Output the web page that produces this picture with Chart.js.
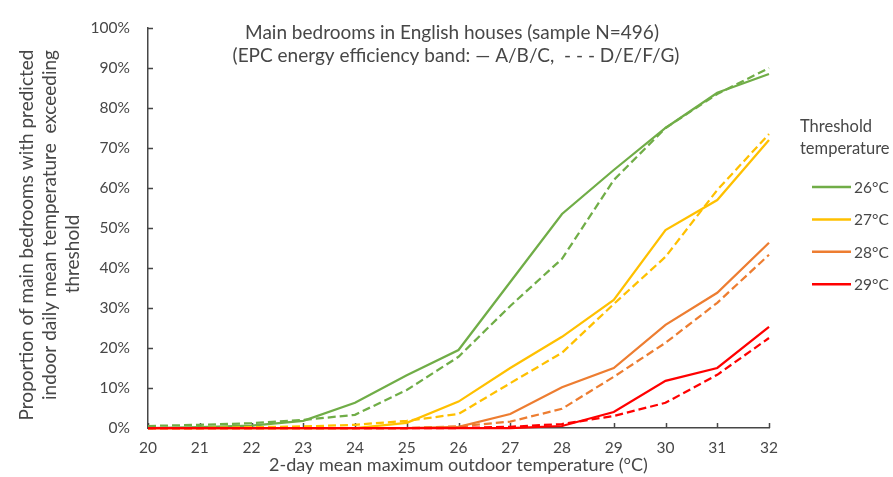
<!DOCTYPE html>
<html>
<head>
<meta charset="utf-8">
<script src="https://cdn.jsdelivr.net/npm/chart.js@4/dist/chart.umd.min.js"></script>
<style>
  html, body { margin: 0; padding: 0; background: #fff; }
  #wrap { position: relative; width: 893px; height: 477px; }
</style>
</head>
<body>
<div id="wrap"><canvas id="chart" width="893" height="477"></canvas></div>
<script>
// 2-day mean maximum outdoor temperature (°C)
const temps = ['20', '21', '22', '23', '24', '25', '26', '27', '28', '29', '30', '31', '32'];

// Share of main bedrooms (%) whose indoor daily mean exceeds each threshold
// EPC band A/B/C (solid) and D/E/F/G (dashed)
const abc26  = [0, 0.2, 0.6, 1.8, 6.3, 13.2, 19.5, 36.5, 53.5, 64.5, 75, 83.8, 88.5];
const defg26 = [0.5, 0.8, 1.2, 2, 3.3, 9.5, 17.8, 30.5, 42.3, 62, 75, 83.5, 90];
const abc27  = [0, 0, 0, 0, 0, 1.3, 6.6, 15, 22.8, 32, 49.5, 57, 72];
const defg27 = [0, 0, 0.2, 0.4, 0.8, 1.8, 3.5, 11.2, 18.8, 31, 42.8, 59.5, 73.5];
const abc28  = [0, 0, 0, 0, 0, 0, 0.3, 3.5, 10.2, 15, 25.8, 33.8, 46.3];
const defg28 = [0, 0, 0, 0, 0, 0, 0.4, 1.6, 4.8, 12.8, 21.3, 31.3, 43.3];
const abc29  = [0, 0, 0, 0, 0, 0, 0, 0, 0.5, 4, 11.8, 15, 25.3];
const defg29 = [0, 0, 0, 0, 0, 0, 0, 0.3, 1, 3, 6.3, 13.3, 22.5];

const thresholds = ['26°C', '27°C', '28°C', '29°C'];
const colours = ['#70AD47', '#FFC000', '#ED7D31', '#FF0000'];
const yTicks = [0, 10, 20, 30, 40, 50, 60, 70, 80, 90, 100];

const titleLines = [
  'Main bedrooms in English houses (sample N=496)',
  '(EPC energy efficiency band: \u2014 A/B/C,  - - - D/E/F/G)'
];
const yTitleLines = [
  'Proportion of main bedrooms with predicted',
  'indoor daily mean temperature  exceeding',
  'threshold'
];
const xTitle = '2-day mean maximum outdoor temperature (\u00B0C)';
const legendTitle = ['Threshold', 'temperature'];

const FONT = 'Lato, "Open Sans", sans-serif';
const TEXT = '#474747';
const AXIS = '#474747';

function line(label, data, colour, dashed) {
  return {
    label: label,
    data: data,
    borderColor: colour,
    backgroundColor: colour,
    borderWidth: 2.25,
    borderDash: dashed ? [8, 4] : [],
    pointRadius: 0,
    pointHoverRadius: 0,
    tension: 0,
    fill: false,
    clip: false,
    isSolid: !dashed
  };
}

// first dataset is painted last, so the hottest threshold sits on top
const datasets = [
  line(thresholds[3], abc29, colours[3], false),
  line(thresholds[3], defg29, colours[3], true),
  line(thresholds[2], abc28, colours[2], false),
  line(thresholds[2], defg28, colours[2], true),
  line(thresholds[1], abc27, colours[1], false),
  line(thresholds[1], defg27, colours[1], true),
  line(thresholds[0], abc26, colours[0], false),
  line(thresholds[0], defg26, colours[0], true)
];

// short tick marks pointing into the plot area
const innerTicks = {
  id: 'innerTicks',
  beforeDatasetsDraw(chart) {
    const { ctx, scales: { x, y } } = chart;
    ctx.save();
    ctx.strokeStyle = AXIS;
    ctx.lineWidth = 1.5;
    ctx.beginPath();
    x.ticks.forEach((t, i) => {
      const px = Math.round(x.getPixelForTick(i)) + 0.5;
      ctx.moveTo(px, y.bottom);
      ctx.lineTo(px, y.bottom - 5);
    });
    y.ticks.forEach((t, i) => {
      const py = Math.round(y.getPixelForTick(i)) + 0.5;
      ctx.moveTo(x.left, py);
      ctx.lineTo(x.left + 5, py);
    });
    ctx.stroke();
    ctx.restore();
  }
};

// chart title, axis titles and the threshold key
const annotations = {
  id: 'annotations',
  afterDraw(chart) {
    const { ctx, chartArea } = chart;
    const cx = (chartArea.left + chartArea.right) / 2;
    ctx.save();
    ctx.fillStyle = TEXT;
    ctx.textBaseline = 'alphabetic';

    // title
    ctx.textAlign = 'center';
    ctx.font = '19px ' + FONT;
    ctx.fillText(titleLines[0], 452, 39);
    ctx.fillText(titleLines[1], 456, 62);

    // x axis title
    ctx.font = '18px ' + FONT;
    ctx.fillText(xTitle, cx, 471);

    // y axis title, rotated
    const yPos = [[27, 235], [50, 225], [73, 254]];
    ctx.font = '19px ' + FONT;
    ctx.textBaseline = 'middle';
    yTitleLines.forEach((s, i) => {
      ctx.save();
      ctx.translate(yPos[i][0], yPos[i][1]);
      ctx.rotate(-Math.PI / 2);
      ctx.fillText(s, 0, 0);
      ctx.restore();
    });

    // key: one entry per threshold colour
    ctx.textAlign = 'left';
    ctx.font = '16.5px ' + FONT;
    ctx.fillText(legendTitle[0], 800, 127);
    ctx.fillText(legendTitle[1], 800, 149);
    ctx.font = '15.5px ' + FONT;
    const solids = chart.data.datasets.filter(d => d.isSolid).reverse();
    solids.forEach((d, i) => {
      const ly = 187 + i * 32.4;
      ctx.strokeStyle = d.borderColor;
      ctx.lineWidth = 2.5;
      ctx.beginPath();
      ctx.moveTo(812, ly);
      ctx.lineTo(851, ly);
      ctx.stroke();
      ctx.fillStyle = TEXT;
      ctx.fillText(d.label, 854, ly + 1);
    });
    ctx.restore();
  }
};

new Chart(document.getElementById('chart'), {
  type: 'line',
  data: { labels: temps, datasets: datasets },
  options: {
    responsive: false,
    animation: false,
    devicePixelRatio: 1,
    layout: { padding: { top: 28, right: 124, left: 0, bottom: 0 } },
    plugins: {
      legend: { display: false },
      title: { display: false },
      tooltip: { enabled: false }
    },
    scales: {
      x: {
        type: 'category',
        offset: false,
        grid: { display: false, drawTicks: false },
        border: { display: true, color: AXIS, width: 1.5 },
        ticks: {
          color: TEXT,
          font: { family: FONT, size: 15.5 },
          padding: 11,
          maxRotation: 0,
          autoSkip: false
        },
        afterFit(scale) { scale.height = 49; }
      },
      y: {
        min: 0,
        max: 100,
        grid: { display: false, drawTicks: false },
        border: { display: true, color: AXIS, width: 1.5 },
        afterBuildTicks(scale) { scale.ticks = yTicks.map(v => ({ value: v })); },
        ticks: {
          color: TEXT,
          font: { family: FONT, size: 15.5 },
          padding: 18,
          callback: v => v + '%'
        },
        afterFit(scale) { scale.width = 148; }
      }
    }
  },
  plugins: [innerTicks, annotations]
});
</script>
</body>
</html>
